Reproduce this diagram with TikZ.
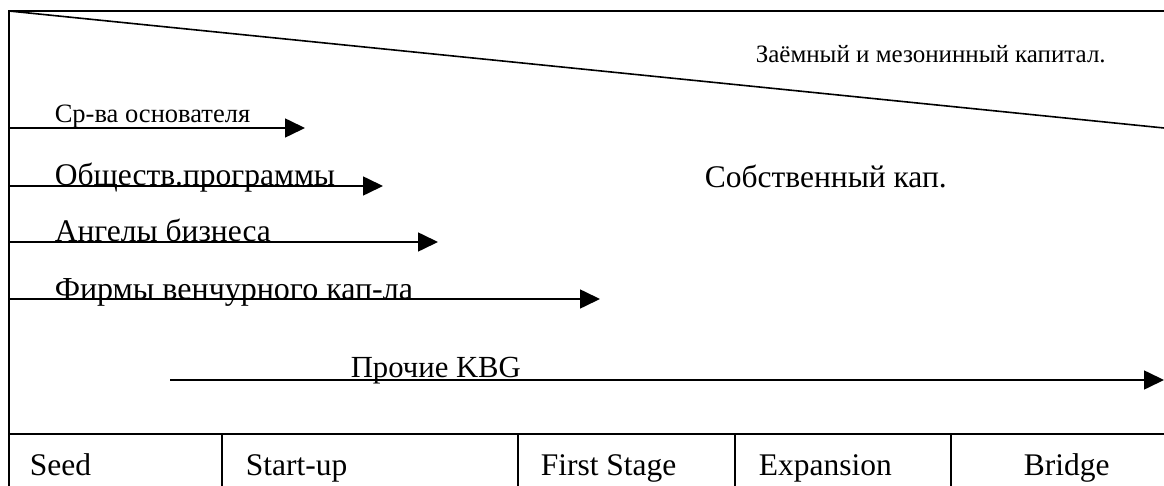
\documentclass[tikz,border=0pt]{standalone}
\usepackage{fontspec}
\setmainfont{Liberation Serif}
\usetikzlibrary{arrows.meta, positioning}

\begin{document}
\begin{tikzpicture}[x=1pt, y=-1pt, line width=1.6pt,
		flow/.style={-{Triangle[length=20pt, width=19pt]}},
		lbl/.style={inner sep=0pt, anchor=base west},
		biglbl/.style={lbl, font=\fontsize{30.7}{37}\selectfont},
		rowlbl/.style={lbl, font=\fontsize{31.5}{38}\selectfont},
		smalllbl/.style={lbl, font=\fontsize{25.5}{30}\selectfont}]
		\useasboundingbox (0,0) rectangle (1164,486);
		% frame
		\coordinate (tl) at (9,11);
		\coordinate (tr) at (1164,11);
		\coordinate (bl) at (9,486);
		\coordinate (dr) at (1164,128);
		\draw (tr)--(tl)--(bl);
		\draw (tl)--(dr);
		\coordinate (rowl) at (9,434);
		\coordinate (rowr) at (1164,434);
		\draw (rowl)--(rowr);
		\foreach \x [count=\k] in {222,518,735,951}{
			\coordinate (div\k) at (\x,434);
			\draw (div\k)--(\x,486);
		}
		% labels:
		\node [smalllbl, font=\fontsize{25}{30}\selectfont] (debt) at (755,63) {Заёмный и мезонинный капитал.};
		\node [rowlbl] (equity) at (704,188) {Собственный кап.};
		\node [smalllbl, font=\fontsize{26.5}{32}\selectfont] (founder) at (54,123) {Ср-ва основателя};
		\node [rowlbl] (public) at (54,186) {Обществ.программы};
		\node [rowlbl] (angels) at (54,242) {Ангелы бизнеса};
		\node [rowlbl, font=\fontsize{32}{38}\selectfont] (vcfirms) at (54,299) {Фирмы венчурного кап-ла};
		\node [biglbl] (other) at (350,377) {Прочие KBG};
		% financing arrows
		\foreach \n/\y/\t in {founder/128/305, public/186/383, angels/242/438, vcfirms/299/600}{
			\coordinate (\n-s) at (9,\y);
			\coordinate (\n-e) at (\t,\y);
			\draw [flow] (\n-s)--(\n-e);
		}
		\coordinate (other-s) at (170,380);
		\coordinate (other-e) at (1164,380);
		\draw [flow] (other-s)--(other-e);
		% stages
		\node [rowlbl] (seed) at (29,475) {Seed};
		\node [rowlbl] (startup) at (245,475) {Start-up};
		\node [rowlbl] (first) at (540,475) {First Stage};
		\node [rowlbl] (expansion) at (758,475) {Expansion};
		\node [rowlbl] (bridge) at (1023,475) {Bridge};
	\end{tikzpicture}
\end{document}
